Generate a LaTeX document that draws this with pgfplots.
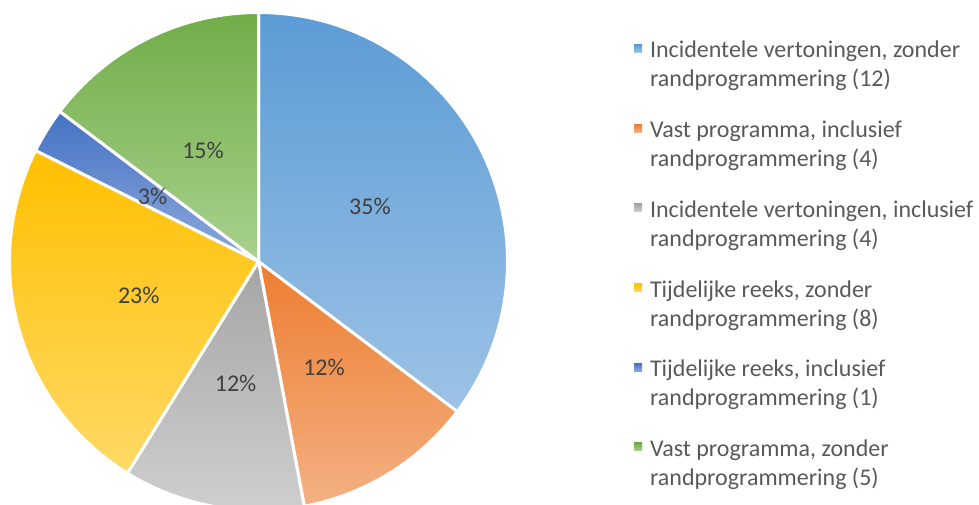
\documentclass[border=0pt]{standalone}
\usepackage{pgfplots}
\pgfplotsset{compat=1.18}
\usepackage{fontspec}
\setmainfont{Carlito}

\definecolor{blueT}{HTML}{5B9BD5}\definecolor{blueB}{HTML}{9DC3E6}
\definecolor{orangeT}{HTML}{ED7D31}\definecolor{orangeB}{HTML}{F4B183}
\definecolor{grayT}{HTML}{A5A5A5}\definecolor{grayB}{HTML}{CFCFCF}
\definecolor{yellowT}{HTML}{FFC000}\definecolor{yellowB}{HTML}{FFD966}
\definecolor{dblueT}{HTML}{4472C4}\definecolor{dblueB}{HTML}{8FAADC}
\definecolor{greenT}{HTML}{70AD47}\definecolor{greenB}{HTML}{A9D18E}
\definecolor{labtxt}{HTML}{404040}
\definecolor{legtxt}{HTML}{595959}

% data: number of items per category
\def\nA{12}\def\nB{4}\def\nC{4}\def\nD{8}\def\nE{1}\def\nF{5}
\pgfmathsetmacro\tot{\nA+\nB+\nC+\nD+\nE+\nF}
\pgfmathsetmacro\aA{90}
\pgfmathsetmacro\aB{\aA-360*\nA/\tot}
\pgfmathsetmacro\aC{\aB-360*\nB/\tot}
\pgfmathsetmacro\aD{\aC-360*\nC/\tot}
\pgfmathsetmacro\aE{\aD-360*\nD/\tot}
\pgfmathsetmacro\aF{\aE-360*\nE/\tot}
\pgfmathsetmacro\aG{\aF-360*\nF/\tot}
\pgfmathsetmacro\mA{(\aA+\aB)/2}
\pgfmathsetmacro\mB{(\aB+\aC)/2}
\pgfmathsetmacro\mC{(\aC+\aD)/2}
\pgfmathsetmacro\mD{(\aD+\aE)/2}
\pgfmathsetmacro\mE{(\aE+\aF)/2}
\pgfmathsetmacro\mF{(\aF+\aG)/2}
\def\cx{258.5}\def\cy{243.5}\def\R{249}

\begin{document}
\begin{tikzpicture}
\useasboundingbox (0,0) rectangle (979pt,505pt);
\begin{axis}[at={(0pt,0pt)}, anchor=south west, scale only axis,
  width=979pt, height=505pt, xmin=0, xmax=979, ymin=0, ymax=505,
  hide axis, clip mode=individual,
  slice/.style={draw=white, line width=3pt, line join=round, samples=120},
  legend image code/.code={\path[#1, draw=none] (0pt,5.5pt) rectangle (8pt,13.5pt);},
  legend style={at={(axis cs:634,467.3)}, anchor=north west, draw=none, fill=none,
    inner sep=0pt, outer sep=0pt, font=\fontsize{24}{29}\selectfont, text=legtxt,
    cells={anchor=base west}, nodes={inner sep=0pt, text depth={}},
    row sep=21.7pt, column sep=8pt},
]
\addplot[slice, top color=blueT, bottom color=blueB, domain=\aB:\aA]
  ({\cx+\R*cos(x)},{\cy+\R*sin(x)}) -- (\cx,\cy) -- cycle;
\addlegendentry{\parbox[t]{330pt}{\strut Incidentele vertoningen, zonder\\\strut randprogrammering (12)}}
\addplot[slice, top color=orangeT, bottom color=orangeB, domain=\aC:\aB]
  ({\cx+\R*cos(x)},{\cy+\R*sin(x)}) -- (\cx,\cy) -- cycle;
\addlegendentry{\parbox[t]{330pt}{\strut Vast programma, inclusief\\\strut randprogrammering (4)}}
\addplot[slice, top color=grayT, bottom color=grayB, domain=\aD:\aC]
  ({\cx+\R*cos(x)},{\cy+\R*sin(x)}) -- (\cx,\cy) -- cycle;
\addlegendentry{\parbox[t]{330pt}{\strut Incidentele vertoningen, inclusief\\\strut randprogrammering (4)}}
\addplot[slice, top color=yellowT, bottom color=yellowB, domain=\aE:\aD]
  ({\cx+\R*cos(x)},{\cy+\R*sin(x)}) -- (\cx,\cy) -- cycle;
\addlegendentry{\parbox[t]{330pt}{\strut Tijdelijke reeks, zonder\\\strut randprogrammering (8)}}
\addplot[slice, top color=dblueT, bottom color=dblueB, domain=\aF:\aE]
  ({\cx+\R*cos(x)},{\cy+\R*sin(x)}) -- (\cx,\cy) -- cycle;
\addlegendentry{\parbox[t]{330pt}{\strut Tijdelijke reeks, inclusief\\\strut randprogrammering (1)}}
\addplot[slice, top color=greenT, bottom color=greenB, domain=\aG:\aF]
  ({\cx+\R*cos(x)},{\cy+\R*sin(x)}) -- (\cx,\cy) -- cycle;
\addlegendentry{\parbox[t]{330pt}{\strut Vast programma, zonder\\\strut randprogrammering (5)}}

\begin{scope}[every node/.style={font=\fontsize{24}{29}\selectfont, text=labtxt, inner sep=0pt}]
\node at (axis cs:{\cx+0.5*\R*cos(\mA)},{\cy+0.5*\R*sin(\mA)}) {35\%};
\node at (axis cs:{\cx+0.5*\R*cos(\mB)},{\cy+0.5*\R*sin(\mB)}) {12\%};
\node at (axis cs:{\cx+0.5*\R*cos(\mC)},{\cy+0.5*\R*sin(\mC)}) {12\%};
\node at (axis cs:{\cx+0.5*\R*cos(\mD)},{\cy+0.5*\R*sin(\mD)}) {23\%};
\node at (axis cs:{\cx+0.5*\R*cos(\mE)},{\cy+0.5*\R*sin(\mE)}) {3\%};
\node at (axis cs:{\cx+0.5*\R*cos(\mF)},{\cy+0.5*\R*sin(\mF)}) {15\%};
\end{scope}
\end{axis}
\end{tikzpicture}
\end{document}
